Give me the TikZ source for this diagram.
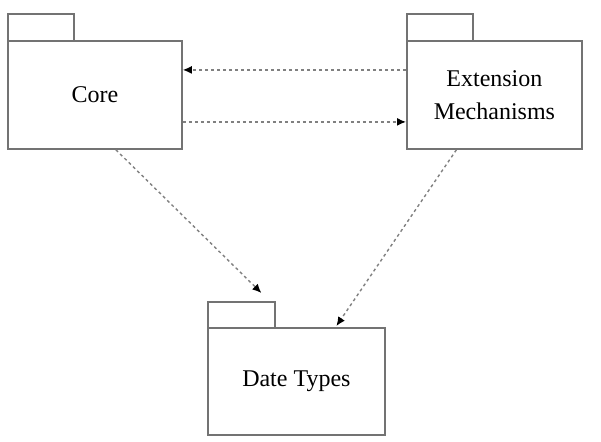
\documentclass[tikz,border=0pt]{standalone}
\usepackage{fontspec}
\setmainfont{Liberation Serif}
\usetikzlibrary{arrows.meta}
\begin{document}
\begin{tikzpicture}[x=1pt,y=-1pt,
  pkg/.style={draw=black!55, line width=1.8pt, fill=white, minimum width=174pt, minimum height=108pt, inner sep=0pt, align=center, font=\fontsize{24}{33}\selectfont},
  pkgtab/.style={draw=black!55, line width=1.8pt, fill=white, minimum width=66pt, minimum height=27pt, inner sep=0pt},
  dep/.style={draw=black!50, line width=1.4pt, dash pattern=on 3pt off 3pt, -{Latex[length=9pt,width=8pt,fill=black,color=black]}}]
\useasboundingbox (0,0) rectangle (601,441);
% Core
\node[pkgtab, anchor=north west] (coretab) at (7,13) {};
\node[pkg, anchor=north west] (core) at (7,40) {Core};
% Extension Mechanisms
\node[pkgtab, anchor=north west] (exttab) at (406,13) {};
\node[pkg, anchor=north west, minimum width=175pt] (ext) at (406,40) {Extension\\Mechanisms};
% Date Types
\node[pkgtab, anchor=north west, minimum width=67pt, minimum height=26pt] (dtab) at (207,301) {};
\node[pkg, anchor=north west, minimum width=177pt, minimum height=107pt] (date) at (207,327) {Date Types};
% connectors
\draw[dep] ([yshift=25pt]ext.west) -- ([yshift=25pt]core.east);
\draw[dep] ([yshift=-27pt]core.east) -- ([yshift=-27pt]ext.west);
\draw[dep] ([xshift=21pt]core.south) -- ([xshift=20pt,yshift=8pt]dtab.north);
\draw[dep] ([xshift=-38pt]ext.south) -- ([xshift=40pt,yshift=1pt]date.north);
\end{tikzpicture}
\end{document}
